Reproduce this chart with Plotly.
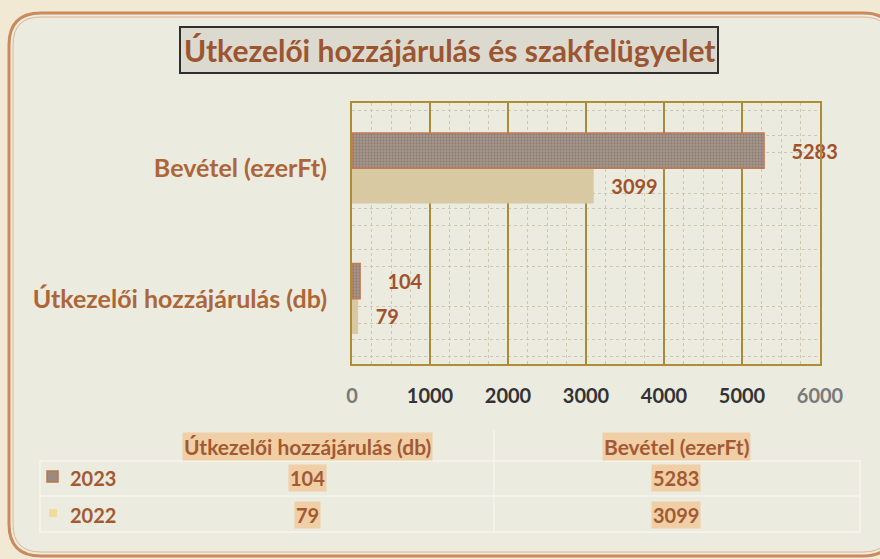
import plotly.graph_objects as go

categories = ["Útkezelői hozzájárulás (db)", "Bevétel (ezerFt)"]
values_2023 = [104, 5283]
values_2022 = [79, 3099]
years = ["2023", "2022"]
x_ticks = [0, 1000, 2000, 3000, 4000, 5000, 6000]
title = "Útkezelői hozzájárulás és szakfelügyelet"

W, H = 880, 559
L, R, T, B = 352, 820, 103, 364
FONT = "Lato"
BROWN = "#a0522d"
LABEL = "#ad6638"

def px(x):
    return (x - L) / (R - L)

def py(y):
    return (B - y) / (B - T)

ypos = list(range(len(categories)))

fig = go.Figure()
fig.add_trace(go.Bar(
    name=years[1], y=ypos, x=values_2022, orientation="h",
    marker=dict(color="#d9c9a2", line=dict(width=0)),
    text=[str(v) for v in values_2022], textposition="outside",
    texttemplate="   %{x}",
    textfont=dict(family=FONT, size=20, color=BROWN, weight="bold"),
    cliponaxis=False,
))
fig.add_trace(go.Bar(
    name=years[0], y=ypos, x=values_2023, orientation="h",
    marker=dict(color="#a4968c", line=dict(width=1.5, color="#c27a52"),
                pattern=dict(shape=".", bgcolor="#a39489", fgcolor="#6f625a",
                             size=3, solidity=0.3)),
    text=[str(v) for v in values_2023], textposition="outside",
    texttemplate="     %{x}",
    textfont=dict(family=FONT, size=20, color=BROWN, weight="bold"),
    cliponaxis=False,
))

shapes = []

def rounded(x0, y0, x1, y1, r):
    return (f"M {px(x0+r)} {py(y0)} L {px(x1-r)} {py(y0)} "
            f"Q {px(x1)} {py(y0)} {px(x1)} {py(y0+r)} L {px(x1)} {py(y1-r)} "
            f"Q {px(x1)} {py(y1)} {px(x1-r)} {py(y1)} L {px(x0+r)} {py(y1)} "
            f"Q {px(x0)} {py(y1)} {px(x0)} {py(y1-r)} L {px(x0)} {py(y0+r)} "
            f"Q {px(x0)} {py(y0)} {px(x0+r)} {py(y0)} Z")

shapes.append(dict(type="path", xref="paper", yref="paper", layer="below",
                   path=rounded(9, 13, 895, 556, 32),
                   fillcolor="#ecebe0", line=dict(color="#c98a5e", width=3)))
shapes.append(dict(type="path", xref="paper", yref="paper", layer="below",
                   path=rounded(13, 17, 891, 552, 28),
                   fillcolor="rgba(0,0,0,0)", line=dict(color="#e2b48e", width=1)))
# title box
shapes.append(dict(type="rect", xref="paper", yref="paper", layer="below",
                   x0=px(180), x1=px(718), y0=py(27), y1=py(73),
                   fillcolor="#dcd9cf", line=dict(color="#2f2f2f", width=2)))
# table lines
tline = dict(color="#f6f5ee", width=1.5)
shapes.append(dict(type="rect", xref="paper", yref="paper", layer="below",
                   x0=px(40), x1=px(860), y0=py(461), y1=py(532),
                   fillcolor="rgba(0,0,0,0)", line=tline))
shapes.append(dict(type="line", xref="paper", yref="paper", layer="below",
                   x0=px(40), x1=px(860), y0=py(496), y1=py(496), line=tline))
shapes.append(dict(type="line", xref="paper", yref="paper", layer="below",
                   x0=px(494), x1=px(494), y0=py(430), y1=py(532), line=tline))
# legend keys
shapes.append(dict(type="rect", xref="paper", yref="paper",
                   x0=px(47), x1=px(58), y0=py(471), y1=py(482),
                   fillcolor="#9a8b80", line=dict(color="#b9774f", width=1.5)))
shapes.append(dict(type="rect", xref="paper", yref="paper",
                   x0=px(49), x1=px(57), y0=py(509), y1=py(517),
                   fillcolor="#f2dc9c", line=dict(width=0)))

ann = []
ann.append(dict(xref="paper", yref="paper", x=px(449), y=py(50), text=title,
                showarrow=False, xanchor="center", yanchor="middle",
                font=dict(family=FONT, size=30, color="#9c5531", weight="bold")))
hl = "#f1cfa6"
col_x = [307, 676]
for cx, cat in zip(col_x, categories):
    ann.append(dict(xref="paper", yref="paper", x=px(cx), y=py(446), text=cat,
                    showarrow=False, xanchor="center", yanchor="middle",
                    bgcolor=hl, borderpad=1,
                    font=dict(family=FONT, size=21, color="#a35a33", weight="bold")))
for ry, yr, vals in [(478, years[0], values_2023), (515, years[1], values_2022)]:
    ann.append(dict(xref="paper", yref="paper", x=px(68), y=py(ry), text=yr,
                    showarrow=False, xanchor="left", yanchor="middle",
                    font=dict(family=FONT, size=20, color="#a35a33", weight="bold")))
    for cx, v in zip(col_x, vals):
        ann.append(dict(xref="paper", yref="paper", x=px(cx), y=py(ry), text=str(v),
                        showarrow=False, xanchor="center", yanchor="middle",
                        bgcolor=hl, borderpad=1,
                        font=dict(family=FONT, size=20, color="#a35a33", weight="bold")))

ticktext = []
for i, t in enumerate(x_ticks):
    c = "#7a7a7a" if i in (0, len(x_ticks) - 1) else "#333333"
    ticktext.append(f"<span style='color:{c}'>{t}</span>")

fig.update_layout(
    width=W, height=H,
    margin=dict(l=L, r=W - R, t=T, b=H - B),
    paper_bgcolor="#f1e9d3",
    plot_bgcolor="#fbf8e9",
    barmode="group", bargap=0.46, bargroupgap=0,
    showlegend=False,
    shapes=shapes, annotations=ann,
    xaxis=dict(range=[0, 6000], tickvals=x_ticks, ticktext=ticktext,
               showgrid=True, gridcolor="#a98a38", gridwidth=1.5,
               showline=True, linecolor="#b08c35", linewidth=2, mirror=True,
               zeroline=False, ticks="", ticklabelstandoff=13,
               tickfont=dict(family=FONT, size=20, color="#333333", weight="bold"),
               minor=dict(dtick=250, showgrid=True, gridcolor="#cfc8b0",
                          griddash="dot", gridwidth=1)),
    yaxis=dict(range=[-0.5, 1.5], tickvals=ypos, ticktext=categories,
               showgrid=False, zeroline=False,
               showline=True, linecolor="#b08c35", linewidth=2, mirror=True,
               ticks="", ticklabelstandoff=18,
               tickfont=dict(family=FONT, size=25, color=LABEL, weight="bold"),
               minor=dict(tickvals=[-0.44, -0.31, -0.19, -0.06, 0.25, 0.38, 0.56, 0.69, 0.81, 1.12, 1.25, 1.44],
                          showgrid=True, gridcolor="#cfc8b0", griddash="dot", gridwidth=1)),
)

fig.write_html("out.html", config={"displayModeBar": False},
               post_script="document.body.style.margin='0';")
